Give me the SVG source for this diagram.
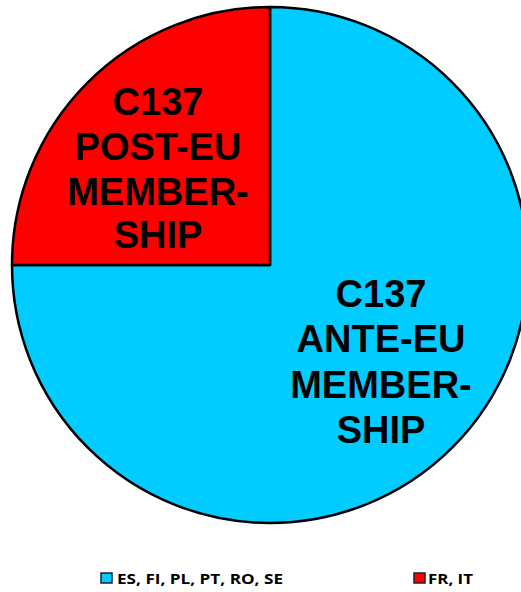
<svg xmlns="http://www.w3.org/2000/svg" width="521" height="592" viewBox="0 0 521 592">
<style>
.slice{stroke:#000;stroke-width:2.5;stroke-linejoin:round}
.lbl{font-family:"Liberation Sans",Arial,sans-serif;font-weight:bold;font-size:38px;fill:#000;text-anchor:middle}
.leg{font-family:"Open Sans","Liberation Sans",sans-serif;font-weight:bold;font-size:14.5px;fill:#000}
.sw{stroke:#222;stroke-width:1.5}
</style>
<rect width="521" height="592" fill="#fff"/>
<g id="ante">
<path class="slice" d="M270,265 L270,7 A258,258 0 1,1 12,265 Z" fill="#00CCFF"/>
<text class="lbl" x="381" y="307">C137</text>
<text class="lbl" x="381" y="352">ANTE-EU</text>
<text class="lbl" x="381" y="398">MEMBER-</text>
<text class="lbl" x="381" y="443">SHIP</text>
</g>
<g id="post">
<path class="slice" d="M270,265 L12,265 A258,258 0 0,1 270,7 Z" fill="#FF0000"/>
<text class="lbl" x="158" y="115">C137</text>
<text class="lbl" x="158" y="160">POST-EU</text>
<text class="lbl" x="158" y="205">MEMBER-</text>
<text class="lbl" x="158" y="248">SHIP</text>
</g>
<g id="legend">
<rect class="sw" x="101" y="573" width="11" height="10" fill="#00CCFF"/>
<text class="leg" x="117" y="583.5" textLength="166" lengthAdjust="spacingAndGlyphs">ES, FI, PL, PT, RO, SE</text>
<rect class="sw" x="414" y="573" width="11" height="10" fill="#FF0000"/>
<text class="leg" x="428" y="583.5" textLength="45" lengthAdjust="spacingAndGlyphs">FR, IT</text>
</g>
</svg>
